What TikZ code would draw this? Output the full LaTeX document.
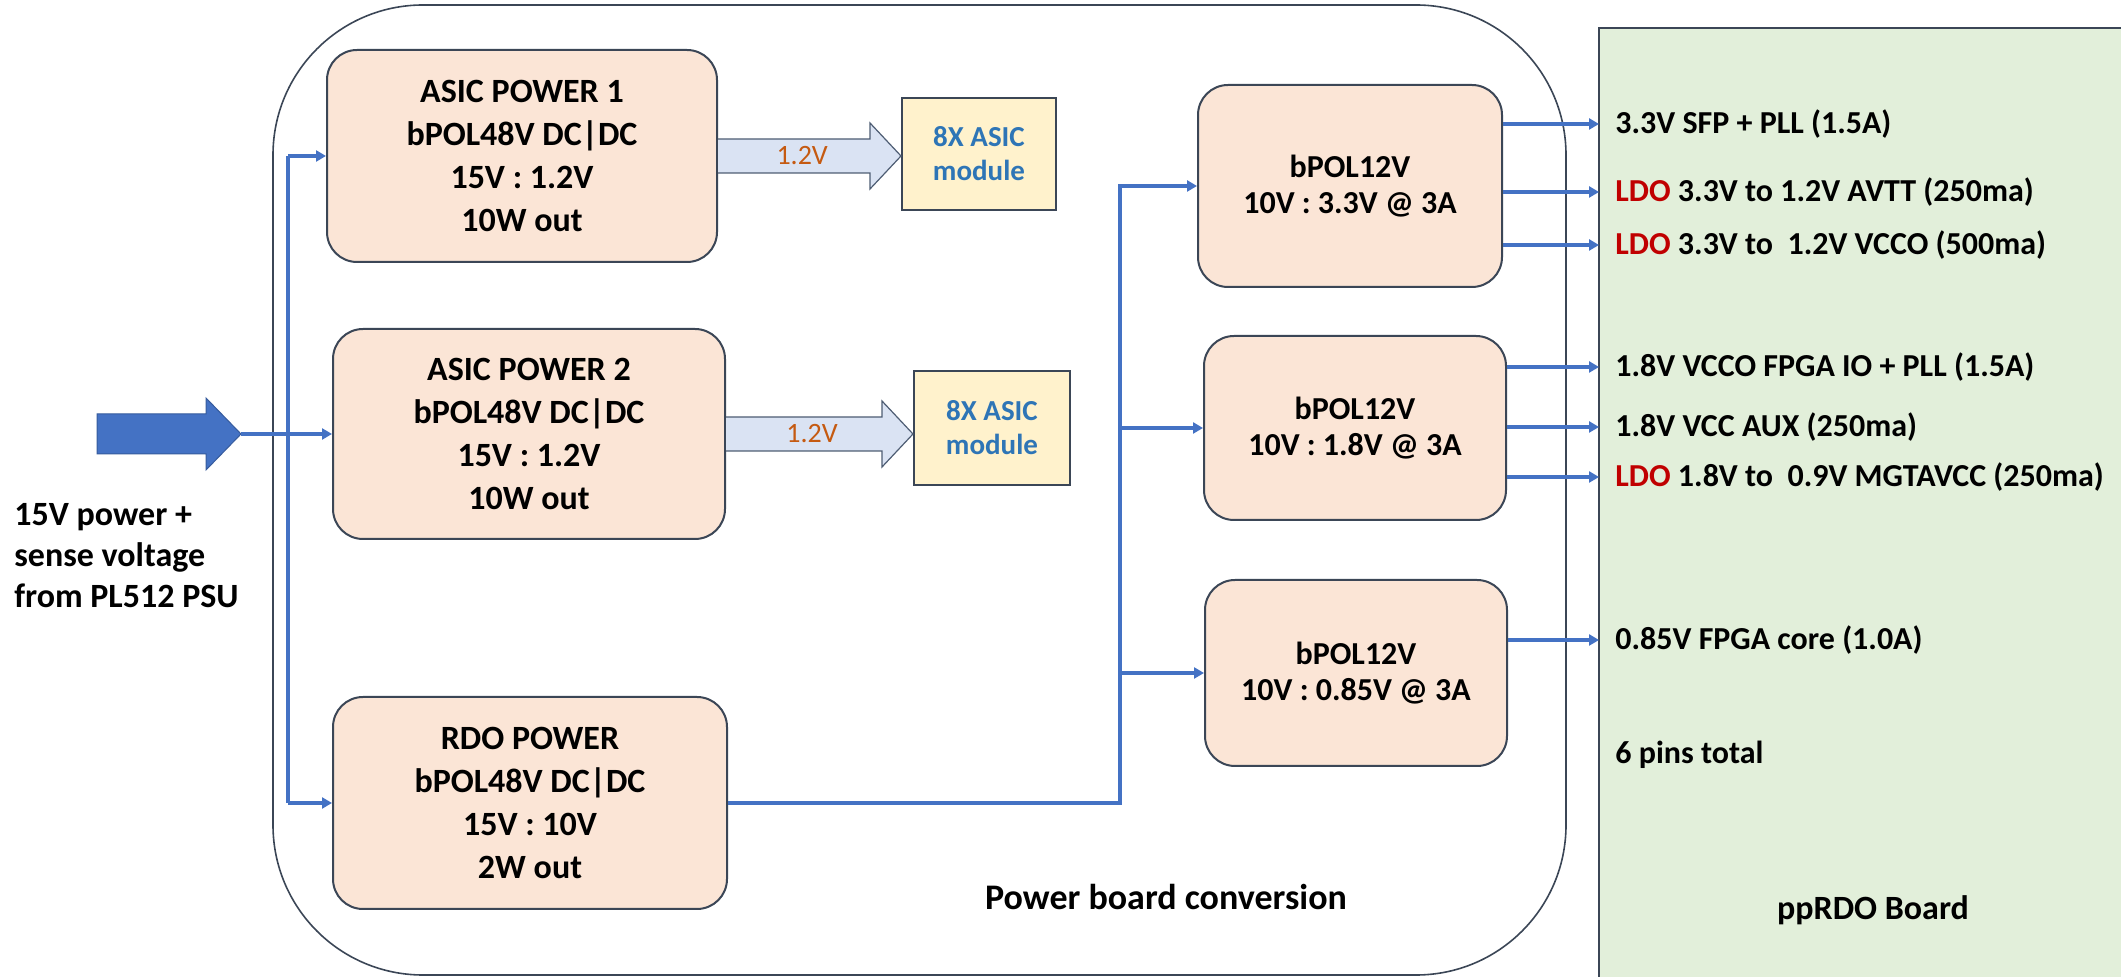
\documentclass[tikz,border=0pt]{standalone}
\usepackage{fontspec}
\setmainfont{Carlito}
\usetikzlibrary{arrows.meta,calc}

\definecolor{peach}{HTML}{FBE5D6}
\definecolor{cream}{HTML}{FFF2CC}
\definecolor{leaf}{HTML}{E2EFDA}
\definecolor{wire}{HTML}{4472C4}
\definecolor{frame}{HTML}{3B4656}
\definecolor{modblue}{HTML}{2E75B6}
\definecolor{voltorange}{HTML}{C55A11}
\definecolor{fatfill}{HTML}{DAE3F3}
\definecolor{fatedge}{HTML}{4E5D73}
\definecolor{ldored}{HTML}{C00000}

\tikzset{
  conv/.style={draw=frame, line width=1pt, fill=peach, rounded corners=15pt,
    align=center, font=\bfseries\fontsize{17}{21.5}\selectfont},
  pol/.style={conv, font=\bfseries\fontsize{16}{18}\selectfont},
  asicmod/.style={draw=frame, line width=1pt, fill=cream, align=center,
    text=modblue, font=\bfseries\fontsize{14.5}{17}\selectfont},
  feed/.style={draw=wire, line width=1.7pt},
  tap/.style={feed, -{Triangle[length=5pt,width=5.5pt]}},
  rail/.style={anchor=west, inner sep=0pt, inner xsep=8pt,
    font=\bfseries\fontsize{16}{19}\selectfont},
  fat/.style={draw=fatedge, fill=fatfill, line width=0.6pt},
  volt/.style={text=voltorange, font=\fontsize{14}{16}\selectfont},
}
\newcommand{\ldo}{\textcolor{ldored}{LDO}}
% wide 1.2V arrow from a converter to its module
\newcommand{\fatarrow}[3]{%
  \coordinate (ft) at (#2.west |- #1.east);
  \draw[fat] ($(#1.east)+(0,-17)$) -- ($(ft)+(-31,-17)$) -- ($(ft)+(-31,-33)$)
    -- (ft) -- ($(ft)+(-31,33)$) -- ($(ft)+(-31,17)$) -- ($(#1.east)+(0,17)$);
  \node[volt] at ($(#1.east)!.46!(ft)$) {#3};}

\begin{document}
\begin{tikzpicture}[x=0.5pt,y=-0.5pt]
	\useasboundingbox (0,0) rectangle (2121,977);
	\clip (0,0) rectangle (2121,977);
	
	% ppRDO board
	\filldraw[fill=leaf, draw=frame, line width=0.8pt] (1599,28) rectangle (2140,995);
	\node[font=\bfseries\fontsize{17}{20}\selectfont] (pprdo) at (1873,910) {ppRDO Board};
	
	% power board
	\draw[frame, line width=0.8pt, rounded corners=75pt] (273,5) rectangle (1566,975);
	\node[font=\bfseries\fontsize{18}{20}\selectfont] (pbtext) at (1166,897) {Power board conversion};
	
	% bPOL48V stage
	\node[conv, minimum width=195pt, minimum height=106pt] (asicA) at (522,156)
		{ASIC POWER 1\\bPOL48V DC|DC\\15V : 1.2V\\10W out};
	\node[conv, minimum width=196pt, minimum height=105pt] (asicB) at (529,434)
		{ASIC POWER 2\\bPOL48V DC|DC\\15V : 1.2V\\10W out};
	\node[conv, minimum width=197pt, minimum height=106pt] (rdo) at (530,803)
		{RDO POWER\\bPOL48V DC|DC\\15V : 10V\\2W out};
	
	\node[asicmod, minimum width=77pt, minimum height=56pt] (modA) at (979,154) {8X ASIC\\module};
	\node[asicmod, minimum width=78pt, minimum height=57pt] (modB) at (992,428) {8X ASIC\\module};
	
	\fatarrow{asicA}{modA}{1.2V}
	\fatarrow{asicB}{modB}{1.2V}
	
	% bPOL12V stage
	\node[pol, minimum width=152pt, minimum height=101pt] (polA) at (1350,186) {bPOL12V\\10V : 3.3V @ 3A};
	\node[pol, minimum width=151pt, minimum height=92pt] (polB) at (1355,428) {bPOL12V\\10V : 1.8V @ 3A};
	\node[pol, minimum width=151pt, minimum height=93pt] (polC) at (1356,673) {bPOL12V\\10V : 0.85V @ 3A};
	
	% input from the PSU
	\coordinate (intip) at (241,434);
	\filldraw[fill=wire, draw=wire!80!black, line width=0.5pt] ($(intip)+(-144,-20)$) -- ($(intip)+(-35,-20)$)
		-- ($(intip)+(-35,-36)$) -- (intip) -- ($(intip)+(-35,36)$) -- ($(intip)+(-35,20)$)
		-- ($(intip)+(-144,20)$) -- cycle;
	\node[anchor=west, align=left, inner sep=0pt, font=\bfseries\fontsize{17}{20.5}\selectfont] (psu) at (14,556)
		{15V power +\\sense voltage\\from PL512 PSU};
	
	\coordinate (lbus) at (288,0);
	\draw[tap] (intip) -- (asicB.west);
	\draw[feed] (lbus |- asicA.west) -- (lbus |- rdo.west);
	\draw[tap] (lbus |- asicA.west) -- (asicA.west);
	\draw[tap] (lbus |- rdo.west) -- (rdo.west);
	
	% 10V bus
	\coordinate (bus) at (1120,0);
	\draw[tap] (rdo.east) -| (bus |- polA.west) -- (polA.west);
	\draw[tap] (bus |- polB.west) -- (polB.west);
	\draw[tap] (bus |- polC.west) -- (polC.west);
	
	% rails on the ppRDO board
	\node[rail] (r1) at (1599,124) {3.3V SFP + PLL (1.5A)};
	\node[rail] (r2) at (1599,192) {\ldo{} 3.3V to 1.2V AVTT (250ma)};
	\node[rail] (r3) at (1599,245) {\ldo{} 3.3V to~ 1.2V VCCO (500ma)};
	\node[rail] (r4) at (1599,367) {1.8V VCCO FPGA IO + PLL (1.5A)};
	\node[rail] (r5) at (1599,427) {1.8V VCC AUX (250ma)};
	\node[rail] (r6) at (1599,477) {\ldo{} 1.8V to~ 0.9V MGTAVCC (250ma)};
	\node[rail] (r7) at (1599,640) {0.85V FPGA core (1.0A)};
	\node[rail] (pins) at (1599,755) {6 pins total};
	
	\draw[tap] (polA.east |- r1.west) -- (r1.west);
	\draw[tap] (polA.east |- r2.west) -- (r2.west);
	\draw[tap] (polA.east |- r3.west) -- (r3.west);
	\draw[tap] (polB.east |- r4.west) -- (r4.west);
	\draw[tap] (polB.east |- r5.west) -- (r5.west);
	\draw[tap] (polB.east |- r6.west) -- (r6.west);
	\draw[tap] (polC.east |- r7.west) -- (r7.west);
\end{tikzpicture}
\end{document}
